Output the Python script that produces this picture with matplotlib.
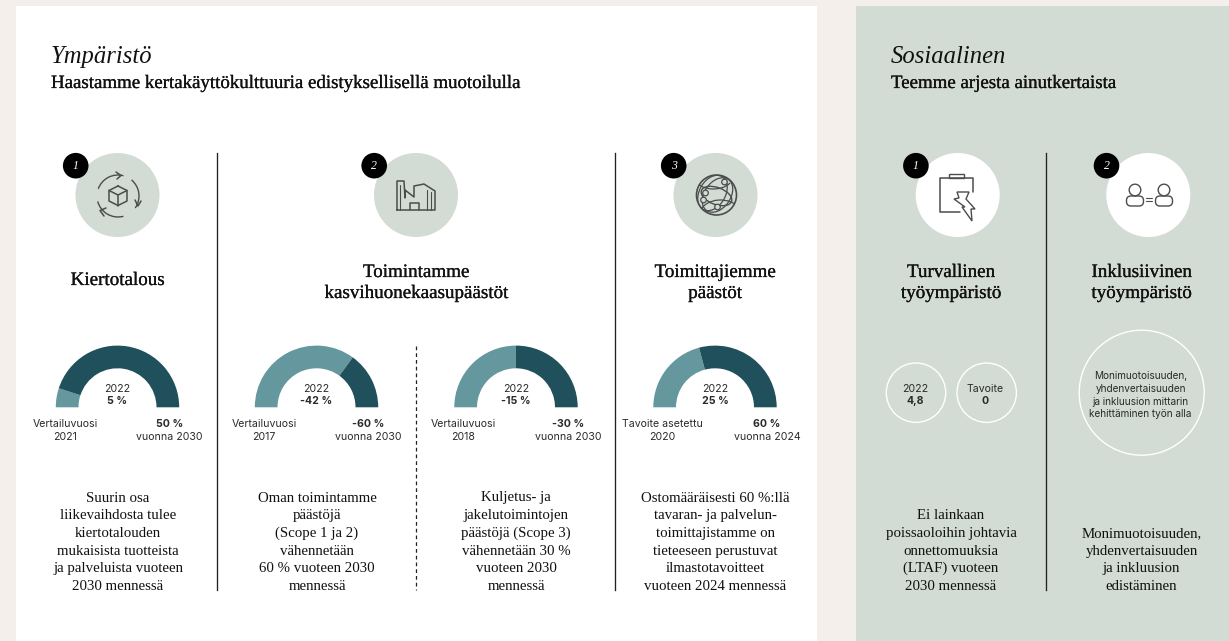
import matplotlib
matplotlib.use('Agg')
import matplotlib.pyplot as plt
import matplotlib.patheffects as pe
from matplotlib.patches import Rectangle, Circle, Wedge, Arc, Ellipse, Polygon, FancyBboxPatch

# Mittarit
gauge_current = [5, 42, 15, 25]
gauge_target = [50, 60, 30, 60]
gauge_mid = ['5 %', '-42 %', '-15 %', '25 %']
gauge_left = [['Vertailuvuosi', '2021'], ['Vertailuvuosi', '2017'], ['Vertailuvuosi', '2018'], ['Tavoite asetettu', '2020']]
gauge_right = [['50 %', 'vuonna 2030'], ['-60 %', 'vuonna 2030'], ['-30 %', 'vuonna 2030'], ['60 %', 'vuonna 2024']]

# Tekstit
body_texts = [
    ['Suurin osa', 'liikevaihdosta tulee', 'kiertotalouden', 'mukaisista tuotteista', 'ja palveluista vuoteen', '2030 mennessä'],
    ['Oman toimintamme', 'päästöjä', '(Scope 1 ja 2)', 'vähennetään', '60 % vuoteen 2030', 'mennessä'],
    ['Kuljetus- ja', 'jakelutoimintojen', 'päästöjä (Scope 3)', 'vähennetään 30 %', 'vuoteen 2030', 'mennessä'],
    ['Ostomääräisesti 60 %:llä', 'tavaran- ja palvelun-', 'toimittajistamme on', 'tieteeseen perustuvat', 'ilmastotavoitteet', 'vuoteen 2024 mennessä'],
    ['Ei lainkaan', 'poissaoloihin johtavia', 'onnettomuuksia', '(LTAF) vuoteen', '2030 mennessä'],
    ['Monimuotoisuuden,', 'yhdenvertaisuuden', 'ja inkluusion', 'edistäminen'],
]
topic_titles = [['Kiertotalous'], ['Toimintamme', 'kasvihuonekaasupäästöt'], ['Toimittajiemme', 'päästöt'],
                ['Turvallinen', 'työympäristö'], ['Inklusiivinen', 'työympäristö']]
badge_numbers = ['1', '2', '3', '1', '2']

SERIF = 'Liberation Serif'
SANS = 'Inter'
DARK = '#1f505b'
LIGHT = '#64979e'
GREEN = '#d2dbd4'
BG = '#f5efeb'
INK = '#2a2a2a'
ICON = '#4a4d4c'
SANS_SIZE = 7.6

fig = plt.figure(figsize=(12.29, 6.41), dpi=100, facecolor=BG)
ax = fig.add_axes([0, 0, 1, 1])
ax.set_xlim(0, 1229)
ax.set_ylim(641, 0)
ax.axis('off')

ax.add_patch(Rectangle((16, 6), 801, 635, fc='white', ec='none'))
ax.add_patch(Rectangle((856, 6), 373, 635, fc=GREEN, ec='none'))

# hieman paksumpi serif, muistuttaa alkuperäistä
heavy = [pe.withStroke(linewidth=0.18, foreground='#111111')]


def lines(x, ys, strs, size, family=SANS, effects=None, color='#111111'):
    for y, s in zip(ys, strs):
        t = ax.text(x, y, s, fontsize=size, family=family, ha='center', va='baseline', color=color)
        if effects:
            t.set_path_effects(effects)


def pl(xs, ys, lw=1.1):
    ax.plot(xs, ys, color=ICON, lw=lw, solid_capstyle='round', solid_joinstyle='round')


# otsikot
ax.text(51, 63, 'Ympäristö', fontsize=17.7, family=SERIF, style='italic', color='#111111')
ax.text(891, 63, 'Sosiaalinen', fontsize=17.7, family=SERIF, style='italic', color='#111111')
sub1 = ax.text(51, 88, 'Haastamme kertakäyttökulttuuria edistyksellisellä muotoilulla', fontsize=13.6, family=SERIF, color='#111111')
sub2 = ax.text(891, 88, 'Teemme arjesta ainutkertaista', fontsize=13.6, family=SERIF, color='#111111')
sub1.set_path_effects(heavy)
sub2.set_path_effects(heavy)

# pystyviivat
for x in [217.2, 615.3, 1046.4]:
    ax.plot([x, x], [153, 590], color='#222222', lw=0.95)
ax.plot([416.2, 416.2], [346, 590], color='#222222', lw=0.9, dashes=(3, 2.4))

# ikoniympyrät
circle_x = [117.5, 416, 715.5, 957.7, 1148.3]
circle_col = [GREEN, GREEN, GREEN, 'white', 'white']
title_x = [117.5, 416, 715, 951, 1141.5]
for i in range(5):
    ax.add_patch(Circle((circle_x[i], 195), 42, fc=circle_col[i], ec='none'))
    ax.add_patch(Circle((circle_x[i] - 41.8, 165.7), 12.8, fc='black', ec='none', zorder=3))
    ax.text(circle_x[i] - 41.8, 169.3, badge_numbers[i], fontsize=8.5, family=SERIF, style='italic', color='white',
            ha='center', va='baseline', zorder=4)
    t = topic_titles[i]
    ys = [285] if len(t) == 1 else [277, 298]
    lines(title_x[i], ys, t, 13.7, family=SERIF, effects=heavy)

# ikoni 1: kierto ja kuutio
cx, cy = 118, 196
for a1, a2 in [(200, 285), (310, 35), (75, 165)]:
    ax.add_patch(Arc((cx, cy), 42, 42, theta1=a1, theta2=a2, color=ICON, lw=1))
pl([cx - 2, cx + 3, cx - 1], [172, 175.5, 179])
pl([cx + 17, cx + 20, cx + 23], [200, 206, 201])
pl([cx - 14, cx - 18, cx - 12], [216, 210.5, 208])
pl([cx, cx + 9, cx + 9, cx, cx - 9, cx - 9, cx], [186, 190.5, 201, 205.5, 201, 190.5, 186])
pl([cx - 9, cx, cx + 9], [190.5, 195, 190.5])
pl([cx, cx], [195, 205.5])

# ikoni 2: tehdas
x0 = 397
pl([x0, x0, x0 + 7, x0 + 8, x0 + 8, x0 + 17, x0 + 17, x0 + 27, x0 + 38, x0 + 38, x0],
   [210, 181, 181, 198, 190, 197, 186, 184, 191, 210, 210])
pl([x0 + 3, x0 + 3], [185, 210], 0.8)
pl([x0 + 13, x0 + 13, x0 + 22, x0 + 22], [210, 203, 203, 210])
pl([x0 + 30, x0 + 30], [190, 210], 0.8)
pl([x0 + 34, x0 + 34], [192, 210], 0.8)

# ikoni 3: verkko
cx, cy = 716.5, 195
globe = Circle((cx, cy), 20, fc='none', ec=ICON, lw=1.2)
ax.add_patch(globe)
inner = [Ellipse((cx, cy + 1), 32, 17, angle=20, fc='none', ec=ICON, lw=1),
         Ellipse((cx + 1, cy), 38, 26, angle=-55, fc='none', ec=ICON, lw=0.9),
         Arc((cx - 3, cy - 18), 38, 24, theta1=20, theta2=170, color=ICON, lw=0.9),
         Arc((cx + 4, cy + 20), 42, 30, theta1=190, theta2=340, color=ICON, lw=0.9),
         Ellipse((cx - 4, cy - 2), 26, 38, angle=30, fc='none', ec=ICON, lw=0.9)]
for p in inner:
    ax.add_patch(p)
    p.set_clip_path(globe)
for dx, dy in [(-11, -2), (8, -13), (1, 12), (-13, 5)]:
    ax.add_patch(Circle((cx + dx, cy + dy), 2.8, fc=GREEN, ec=ICON, lw=0.9, zorder=3))

# ikoni 4: leikepöytä ja salama
pl([973, 973, 940, 940, 960], [192, 178, 178, 212, 212])
ax.add_patch(Rectangle((949, 173.5), 15, 4.5, fc='white', ec=ICON, lw=1))
ax.add_patch(Polygon([[957, 192], [969, 192], [966, 199], [975, 209], [971, 209], [972, 221], [962, 207], [965, 207], [954, 199], [959, 198]],
                     fc='white', ec=ICON, lw=1, zorder=3))

# ikoni 5: ihmiset
for px in [1135, 1164]:
    ax.add_patch(FancyBboxPatch((px - 5.5, 199), 11, 4, boxstyle='round,pad=3,rounding_size=4.5', fc='white', ec=ICON, lw=1))
    ax.add_patch(Circle((px, 190), 5.8, fc='white', ec=ICON, lw=1, zorder=3))
pl([1146, 1152], [198, 198], 0.8)
pl([1146, 1152], [201, 201], 0.8)

# mittarit
gauge_x = [117.5, 316.5, 516, 715]
GY = 407.3
for i, gx in enumerate(gauge_x):
    ang = 180 * gauge_current[i] / gauge_target[i]
    ax.add_patch(Wedge((gx, GY), 61.7, 180, 180 + ang, width=22.7, fc=LIGHT, ec='none'))
    ax.add_patch(Wedge((gx, GY), 61.7, 180 + ang, 360, width=22.7, fc=DARK, ec='none'))
    ax.text(gx, 392, '2022', fontsize=SANS_SIZE, family=SANS, ha='center', color=INK)
    ax.text(gx, 404, gauge_mid[i], fontsize=SANS_SIZE, family=SANS, fontweight='bold', ha='center', color=INK)
    lx = gx - 52.5
    ax.text(lx, 427, gauge_left[i][0], fontsize=SANS_SIZE, family=SANS, ha='center', color=INK)
    ax.text(lx, 440, gauge_left[i][1], fontsize=SANS_SIZE, family=SANS, ha='center', color=INK)
    ax.text(gx + 52, 427, gauge_right[i][0], fontsize=SANS_SIZE, family=SANS, fontweight='bold', ha='center', color=INK)
    ax.text(gx + 52, 440, gauge_right[i][1], fontsize=SANS_SIZE, family=SANS, ha='center', color=INK)

# valkoiset ympyrät
for x, r in [(916, 29.7), (986.7, 29.7), (1141.7, 62.5)]:
    ax.add_patch(Circle((x, 392.7), r, fc='none', ec='white', lw=1))
ax.text(915, 392, '2022', fontsize=SANS_SIZE, family=SANS, ha='center', color=INK)
ax.text(915, 404, '4,8', fontsize=SANS_SIZE, family=SANS, fontweight='bold', ha='center', color=INK)
ax.text(985.5, 392, 'Tavoite', fontsize=SANS_SIZE, family=SANS, ha='center', color=INK)
ax.text(985.5, 404, '0', fontsize=SANS_SIZE, family=SANS, fontweight='bold', ha='center', color=INK)
lines(1140.5, [379, 392, 405, 417],
      ['Monimuotoisuuden,', 'yhdenvertaisuuden', 'ja inkluusion mittarin', 'kehittäminen työn alla'], 7.2, color=INK)

# leipäteksti
body_x = [118, 317, 516, 715.5, 951, 1141.5]
for x, strs in zip(body_x, body_texts):
    n = len(strs)
    ys = [590 - 17.7 * (n - 1 - k) for k in range(n)]
    lines(x, ys, strs, 10.7, family=SERIF)

plt.savefig('out.png', dpi=100, facecolor=BG)
